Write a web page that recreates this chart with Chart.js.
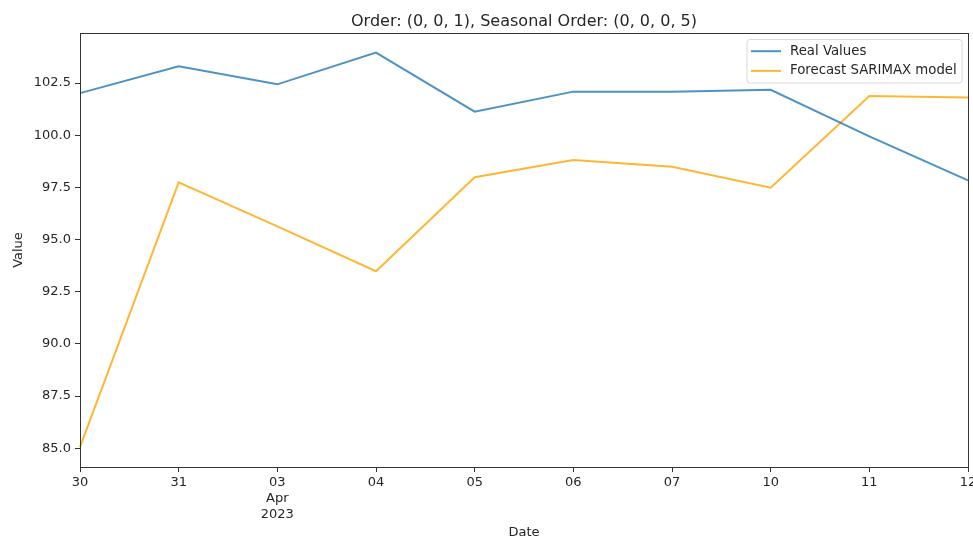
<!DOCTYPE html>
<html>
<head>
<meta charset="utf-8">
<script src="https://cdn.jsdelivr.net/npm/chart.js@4/dist/chart.umd.min.js"></script>
<style>
  html, body { margin: 0; padding: 0; background: #fff; }
  #wrap { width: 973px; height: 541px; }
</style>
</head>
<body>
<div id="wrap"><canvas id="c" width="973" height="541"></canvas></div>
<script>
// Business-day dates, 30 Mar 2023 to 12 Apr 2023
const dateLabels = ['30', '31', ['03', 'Apr', '2023'], '04', '05', '06', '07', '10', '11', '12'];
const realValues = [102.02, 103.31, 102.44, 103.96, 101.13, 102.09, 102.09, 102.18, 99.95, 97.84];
const forecastValues = [85.05, 97.74, 95.63, 93.48, 97.99, 98.81, 98.49, 97.49, 101.88, 101.81];
const yTickValues = [85.0, 87.5, 90.0, 92.5, 95.0, 97.5, 100.0, 102.5];
const yMin = 84.10, yMax = 104.90;

const FONT = 'DejaVu Sans';
const TEXT = '#262626';
const AXIS = '#333333';

// Title centred over the plot area, plus the spine box around it
const framePlugin = {
  id: 'frame',
  afterDraw(chart) {
    const { ctx, chartArea: a } = chart;
    ctx.save();
    ctx.strokeStyle = AXIS;
    ctx.lineWidth = 1;
    ctx.strokeRect(Math.round(a.left) + 0.5, Math.round(a.top) + 0.5,
                   Math.round(a.right - a.left), Math.round(a.bottom - a.top));
    ctx.fillStyle = TEXT;
    ctx.font = '16px "' + FONT + '"';
    ctx.textAlign = 'center';
    ctx.textBaseline = 'alphabetic';
    ctx.fillText('Order: (0, 0, 1), Seasonal Order: (0, 0, 0, 5)', (a.left + a.right) / 2, 26);
    ctx.restore();
  }
};

// Legend box in the upper right corner of the plot
const legendBoxPlugin = {
  id: 'legendBox',
  afterDraw(chart) {
    const { ctx, chartArea: a } = chart;
    const ds = chart.data.datasets;
    ctx.save();
    ctx.font = '13.3px "' + FONT + '"';
    const w = 215, rowH = 19.7, h = 43.5;
    const x = a.right - 6 - w, y = a.top + 6.5;
    ctx.beginPath();
    const r = 3;
    ctx.moveTo(x + r, y);
    ctx.arcTo(x + w, y, x + w, y + h, r);
    ctx.arcTo(x + w, y + h, x, y + h, r);
    ctx.arcTo(x, y + h, x, y, r);
    ctx.arcTo(x, y, x + w, y, r);
    ctx.closePath();
    ctx.fillStyle = 'rgba(255,255,255,0.8)';
    ctx.fill();
    ctx.strokeStyle = '#d9d9d9';
    ctx.lineWidth = 1;
    ctx.stroke();
    ds.forEach((d, i) => {
      const cy = y + 11.7 + i * rowH;
      ctx.strokeStyle = d.borderColor;
      ctx.lineWidth = d.borderWidth;
      ctx.beginPath();
      ctx.moveTo(x + 4, cy);
      ctx.lineTo(x + 34, cy);
      ctx.stroke();
      ctx.fillStyle = TEXT;
      ctx.textAlign = 'left';
      ctx.textBaseline = 'middle';
      ctx.fillText(d.label, x + 43, cy);
    });
    ctx.restore();
  }
};

new Chart(document.getElementById('c'), {
  type: 'line',
  data: {
    labels: dateLabels,
    datasets: [
      {
        label: 'Real Values',
        data: realValues,
        borderColor: 'rgba(31,119,180,0.8)',
        borderWidth: 2,
        pointRadius: 0,
        tension: 0,
        fill: false
      },
      {
        label: 'Forecast SARIMAX model',
        data: forecastValues,
        borderColor: 'rgba(255,165,0,0.8)',
        borderWidth: 2,
        pointRadius: 0,
        tension: 0,
        fill: false
      }
    ]
  },
  options: {
    responsive: false,
    animation: false,
    layout: { padding: { top: 33, right: 5, left: 0, bottom: 0 } },
    plugins: {
      legend: { display: false },
      title: { display: false },
      tooltip: { enabled: false }
    },
    scales: {
      x: {
        type: 'category',
        offset: false,
        grid: { drawOnChartArea: false, drawTicks: true, tickLength: 5, color: AXIS },
        border: { display: false },
        ticks: {
          color: TEXT, padding: 2, maxRotation: 0, autoSkip: false,
          font: { family: FONT, size: 13, lineHeight: 1.25 }
        },
        title: {
          display: true, text: 'Date', color: TEXT,
          font: { family: FONT, size: 13 }, padding: { top: 0, bottom: 1 }
        },
        afterFit(scale) {
          scale.height = 74;
          scale.paddingLeft = 0;
          scale.paddingRight = 0;
        }
      },
      y: {
        type: 'linear',
        min: yMin,
        max: yMax,
        grid: { drawOnChartArea: false, drawTicks: true, tickLength: 5, color: AXIS },
        border: { display: false },
        afterBuildTicks(scale) { scale.ticks = yTickValues.map(v => ({ value: v })); },
        ticks: {
          color: TEXT, padding: 4,
          font: { family: FONT, size: 13 },
          callback: v => Number(v).toFixed(1)
        },
        title: {
          display: true, text: 'Value', color: TEXT,
          font: { family: FONT, size: 13 }, padding: { top: 11, bottom: 0 }
        },
        afterFit(scale) {
          scale.width = 80;
          scale.paddingTop = 0;
          scale.paddingBottom = 0;
        }
      }
    }
  },
  plugins: [framePlugin, legendBoxPlugin]
});
</script>
</body>
</html>
